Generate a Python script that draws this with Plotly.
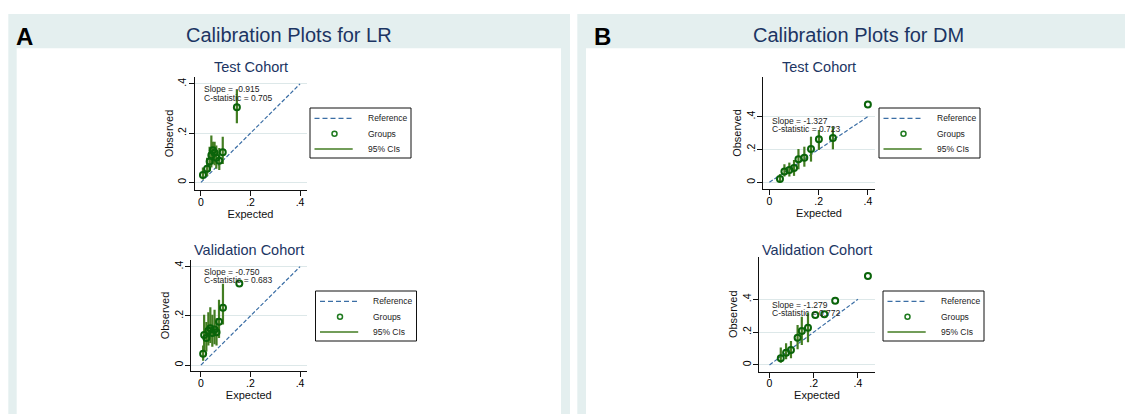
import plotly.graph_objects as go

# ---------------- data ----------------
TICK_VALS = [0, 0.2, 0.4]
TICK_TEXT = ["0", ".2", ".4"]
REF_LINE = [0, 0.4]
LEGEND_LABELS = ["Reference", "Groups", "95% CIs"]
PANEL_TITLES = ["Calibration Plots for LR", "Calibration Plots for DM"]
PANEL_LETTERS = ["A", "B"]
COHORTS = ["Test Cohort", "Validation Cohort"]

# LR - test cohort
LR_TEST_EXP = [0.008, 0.025, 0.035, 0.042, 0.048, 0.055, 0.062, 0.074, 0.088, 0.145]
LR_TEST_OBS = [0.030, 0.055, 0.085, 0.110, 0.130, 0.120, 0.100, 0.088, 0.122, 0.305]
LR_TEST_LO = [0.012, 0.025, 0.045, 0.060, 0.075, 0.070, 0.055, 0.050, 0.075, 0.240]
LR_TEST_HI = [0.060, 0.100, 0.145, 0.190, 0.165, 0.165, 0.150, 0.140, 0.185, 0.375]
LR_TEST_STATS = ("-0.915", "0.705")

# LR - validation cohort
LR_VAL_EXP = [0.009, 0.013, 0.022, 0.030, 0.038, 0.046, 0.055, 0.063, 0.073, 0.089, 0.155]
LR_VAL_OBS = [0.046, 0.122, 0.110, 0.140, 0.150, 0.130, 0.145, 0.133, 0.176, 0.233, 0.332]
LR_VAL_LO = [0.018, 0.060, 0.055, 0.080, 0.090, 0.075, 0.085, 0.080, 0.110, 0.165, None]
LR_VAL_HI = [0.080, 0.205, 0.175, 0.215, 0.235, 0.205, 0.225, 0.190, 0.265, 0.330, None]
LR_VAL_STATS = ("-0.750", "0.683")

# DM - test cohort
DM_TEST_EXP = [0.043, 0.061, 0.081, 0.100, 0.118, 0.142, 0.169, 0.201, 0.258, 0.400]
DM_TEST_OBS = [0.020, 0.065, 0.075, 0.087, 0.140, 0.150, 0.203, 0.262, 0.270, 0.475]
DM_TEST_LO = [0.000, 0.035, 0.035, 0.039, 0.079, 0.095, 0.126, 0.197, 0.201, None]
DM_TEST_HI = [0.050, 0.110, 0.120, 0.136, 0.203, 0.217, 0.278, 0.319, 0.339, None]
DM_TEST_STATS = ("-1.327", "0.723")

# DM - validation cohort
DM_VAL_EXP = [0.051, 0.075, 0.097, 0.127, 0.146, 0.174, 0.207, 0.248, 0.297, 0.445]
DM_VAL_OBS = [0.041, 0.075, 0.091, 0.166, 0.207, 0.227, 0.305, 0.309, 0.392, 0.542]
DM_VAL_LO = [0.014, 0.035, 0.041, 0.095, 0.122, 0.138, None, None, None, None]
DM_VAL_HI = [0.106, 0.132, 0.146, 0.244, 0.294, 0.320, None, None, None, None]
DM_VAL_STATS = ("-1.279", "0.772")

# ---------------- styling / layout ----------------
W, H = 1125, 414
FONT = "Liberation Sans, Arial, Helvetica, sans-serif"
NAVY = "#1c3563"
TEAL = "#e4efef"
REF_COLOR = "#3b6ea5"
CI_COLOR = "#437d22"
PT_COLOR = "#0a640a"
GRID = "#dde8e9"


def px(x):
    return x / W


def py(y):
    return 1 - y / H


panels = [
    dict(exp=LR_TEST_EXP, obs=LR_TEST_OBS, lo=LR_TEST_LO, hi=LR_TEST_HI, stats=LR_TEST_STATS,
         title=COHORTS[0], xdom=(194.5, 306.5), ydom=(77, 190), xr=(-0.026, 0.426), yr=(-0.031, 0.428),
         title_y=67, legend=(310, 108, 411, 158), stat_x=202, stat_y=(89.3, 97.7)),
    dict(exp=LR_VAL_EXP, obs=LR_VAL_OBS, lo=LR_VAL_LO, hi=LR_VAL_HI, stats=LR_VAL_STATS,
         title=COHORTS[1], xdom=(191, 306.5), ydom=(260, 371), xr=(-0.040, 0.426), yr=(-0.024, 0.427),
         title_y=250, legend=(315.5, 291, 416.5, 341), stat_x=202, stat_y=(271.7, 280.3)),
    dict(exp=DM_TEST_EXP, obs=DM_TEST_OBS, lo=DM_TEST_LO, hi=DM_TEST_HI, stats=DM_TEST_STATS,
         title=COHORTS[0], xdom=(763, 875), ydom=(77, 189), xr=(-0.026, 0.429), yr=(-0.041, 0.642),
         title_y=67, legend=(879, 108, 980, 158), stat_x=770, stat_y=(121, 129.3)),
    dict(exp=DM_VAL_EXP, obs=DM_VAL_OBS, lo=DM_VAL_LO, hi=DM_VAL_HI, stats=DM_VAL_STATS,
         title=COHORTS[1], xdom=(759, 875), ydom=(257, 371.5), xr=(-0.0475, 0.477), yr=(-0.040, 0.658),
         title_y=250, legend=(883, 291, 984, 341), stat_x=770, stat_y=(304.5, 313.3)),
]

fig = go.Figure()
shapes = []
annotations = []

# panel backgrounds
for x0, x1 in [(8.3, 570), (577.3, 1125)]:
    shapes.append(dict(type="rect", xref="paper", yref="paper", x0=px(x0), x1=px(x1), y0=py(414), y1=py(14),
                       fillcolor=TEAL, line=dict(width=0), layer="below"))
for x0, x1 in [(16.7, 561), (586, 1125)]:
    shapes.append(dict(type="rect", xref="paper", yref="paper", x0=px(x0), x1=px(x1), y0=py(414), y1=py(48.3),
                       fillcolor="white", line=dict(width=0), layer="below"))

# panel letters and titles
for letter, lx in zip(PANEL_LETTERS, [14, 591.5]):
    annotations.append(dict(text="<b>%s</b>" % letter, x=px(lx), y=py(37), xref="paper", yref="paper",
                            xanchor="left", yanchor="middle", showarrow=False,
                            font=dict(family=FONT, size=24, color="black")))
for title, tx in zip(PANEL_TITLES, [289, 858]):
    annotations.append(dict(text=title, x=px(tx), y=py(35), xref="paper", yref="paper",
                            xanchor="center", yanchor="middle", showarrow=False,
                            font=dict(family=FONT, size=20, color=NAVY)))

layout_axes = {}
for i, p in enumerate(panels, start=1):
    xa = "x" if i == 1 else "x%d" % i
    ya = "y" if i == 1 else "y%d" % i
    xkey = "xaxis" if i == 1 else "xaxis%d" % i
    ykey = "yaxis" if i == 1 else "yaxis%d" % i

    # reference line
    fig.add_trace(go.Scatter(x=REF_LINE, y=REF_LINE, mode="lines", xaxis=xa, yaxis=ya,
                             line=dict(color=REF_COLOR, width=1.2, dash="4px,2px"),
                             name=LEGEND_LABELS[0], showlegend=False, hoverinfo="skip"))
    # confidence intervals
    cx, cy = [], []
    for e, lo, hi in zip(p["exp"], p["lo"], p["hi"]):
        if lo is None or hi is None:
            continue
        cx += [e, e, None]
        cy += [lo, hi, None]
    fig.add_trace(go.Scatter(x=cx, y=cy, mode="lines", xaxis=xa, yaxis=ya,
                             line=dict(color=CI_COLOR, width=2.2),
                             name=LEGEND_LABELS[2], showlegend=False, hoverinfo="skip"))
    # groups
    fig.add_trace(go.Scatter(x=p["exp"], y=p["obs"], mode="markers", xaxis=xa, yaxis=ya,
                             marker=dict(symbol="circle-open", size=6, color=PT_COLOR,
                                         line=dict(width=2, color=PT_COLOR)),
                             name=LEGEND_LABELS[1], showlegend=False))

    layout_axes[xkey] = dict(
        domain=[px(p["xdom"][0]), px(p["xdom"][1])], anchor=ya, range=list(p["xr"]),
        tickvals=TICK_VALS, ticktext=TICK_TEXT, showgrid=False, zeroline=False,
        showline=True, linecolor="#111", linewidth=1, ticks="outside", ticklen=5, tickwidth=1,
        tickcolor="#111", tickfont=dict(family=FONT, size=10.5, color="black"),
        ticklabelstandoff=-3,
        title=dict(text="Expected", font=dict(family=FONT, size=11, color="#111"), standoff=1),
        fixedrange=True)
    layout_axes[ykey] = dict(
        domain=[py(p["ydom"][1]), py(p["ydom"][0])], anchor=xa, range=list(p["yr"]),
        tickvals=TICK_VALS, ticktext=TICK_TEXT, showgrid=True, gridcolor=GRID, gridwidth=1,
        zeroline=False, showline=True, linecolor="#111", linewidth=1, ticks="outside", ticklen=5,
        tickwidth=1, tickcolor="#111", tickangle=-90, ticklabelstandoff=-2,
        tickfont=dict(family=FONT, size=10.5, color="black"),
        title=dict(text="Observed", font=dict(family=FONT, size=11, color="#111"), standoff=0),
        fixedrange=True)

    # subplot title
    annotations.append(dict(text=p["title"], x=px((p["xdom"][0] + p["xdom"][1]) / 2), y=py(p["title_y"]),
                            xref="paper", yref="paper", xanchor="center", yanchor="middle",
                            showarrow=False, font=dict(family=FONT, size=14.5, color=NAVY)))
    # statistics text
    for line_txt, sy in zip(["Slope = " + p["stats"][0], "C-statistic = " + p["stats"][1]], p["stat_y"]):
        annotations.append(dict(text=line_txt, x=px(p["stat_x"]), y=py(sy), xref="paper", yref="paper",
                                xanchor="left", yanchor="middle", showarrow=False,
                                font=dict(family=FONT, size=8.5, color="#222")))

    # legend box
    lx0, ly0, lx1, ly1 = p["legend"]
    shapes.append(dict(type="rect", xref="paper", yref="paper", x0=px(lx0), x1=px(lx1), y0=py(ly1), y1=py(ly0),
                       fillcolor="white", line=dict(color="#111", width=1)))
    rows = [ly0 + 10.3, ly0 + 25.7, ly0 + 41]
    shapes.append(dict(type="line", xref="paper", yref="paper", x0=px(lx0 + 4.5), x1=px(lx0 + 42.7),
                       y0=py(rows[0]), y1=py(rows[0]), line=dict(color=REF_COLOR, width=1.3, dash="5px,3px")))
    shapes.append(dict(type="circle", xref="paper", yref="paper", x0=px(lx0 + 22), x1=px(lx0 + 27),
                       y0=py(rows[1] + 2.5), y1=py(rows[1] - 2.5), line=dict(color="#1f7a1f", width=1.5)))
    shapes.append(dict(type="line", xref="paper", yref="paper", x0=px(lx0 + 4.5), x1=px(lx0 + 42.7),
                       y0=py(rows[2]), y1=py(rows[2]), line=dict(color=CI_COLOR, width=1.3)))
    for lab, ry in zip(LEGEND_LABELS, rows):
        annotations.append(dict(text=lab, x=px(lx0 + 55.5), y=py(ry), xref="paper", yref="paper",
                                xanchor="left", yanchor="middle", showarrow=False,
                                font=dict(family=FONT, size=8.5, color="#222")))

fig.update_layout(
    width=W, height=H, margin=dict(l=0, r=0, t=0, b=0),
    paper_bgcolor="white", plot_bgcolor="rgba(0,0,0,0)",
    showlegend=False, shapes=shapes, annotations=annotations,
    font=dict(family=FONT), **layout_axes)

fig.write_html("out.html", config={"displayModeBar": False},
               post_script="document.body.style.margin='0';document.body.style.overflow='hidden';")
